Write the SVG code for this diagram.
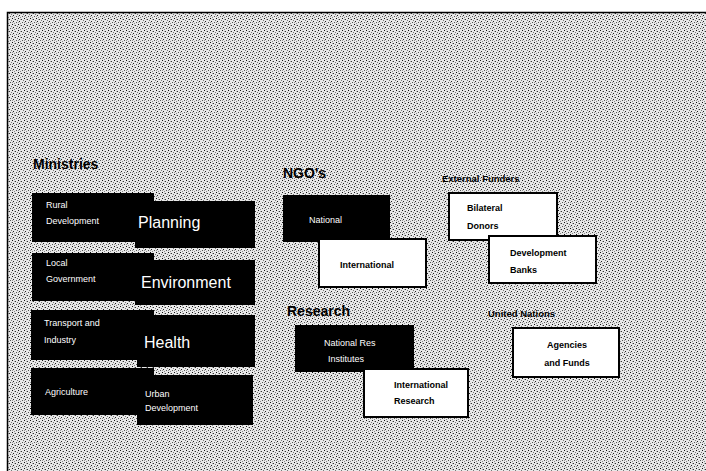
<svg xmlns="http://www.w3.org/2000/svg" width="706" height="471" viewBox="0 0 706 471">
<defs>
<pattern id="dither" width="6" height="6" patternUnits="userSpaceOnUse">
<rect width="6" height="6" fill="#e8e8e8"/>
<rect x="0" y="0" width="1" height="1" fill="#111"/>
<rect x="3" y="1" width="1" height="1" fill="#333"/>
<rect x="5" y="2" width="1" height="1" fill="#777"/>
<rect x="1" y="3" width="1" height="1" fill="#222"/>
<rect x="4" y="4" width="1" height="1" fill="#555"/>
<rect x="2" y="5" width="1" height="1" fill="#888"/>
<rect x="2" y="1" width="1" height="1" fill="#aaa"/>
<rect x="0" y="4" width="1" height="1" fill="#999"/>
</pattern>
</defs>
<style>
.dark{fill:#000;}
.light{fill:#fff;stroke:#000;stroke-width:2;}
.wt{fill:#fff;font-family:"Liberation Sans",Arial,sans-serif;font-size:9px;}
.big{fill:#fff;font-family:"Liberation Sans",Arial,sans-serif;font-size:16px;}
.bt{fill:#000;font-family:"Liberation Sans",Arial,sans-serif;font-size:9px;font-weight:bold;}
.hd{fill:#000;font-family:"Liberation Sans",Arial,sans-serif;font-size:14px;font-weight:bold;}
.hs{fill:#000;font-family:"Liberation Sans",Arial,sans-serif;font-size:9.5px;font-weight:bold;}
</style>
<rect width="706" height="471" fill="#fff"/>
<rect x="7" y="12" width="699" height="459" fill="url(#dither)"/>
<path d="M7.5 471 V12.5 H706" fill="none" stroke="#000" stroke-width="1.5"/>

<g id="ministries">
<text class="hd" x="33" y="169">Ministries</text>
</g>
<g id="rural">
<rect class="dark" x="32" y="193" width="122" height="49"/>
<text class="wt" x="46" y="208">Rural</text>
<text class="wt" x="46" y="224">Development</text>
</g>
<g id="planning">
<rect class="dark" x="135" y="201" width="120" height="47"/>
<text class="big" x="138" y="228">Planning</text>
</g>
<g id="local">
<rect class="dark" x="32" y="253" width="122" height="48"/>
<text class="wt" x="46" y="266">Local</text>
<text class="wt" x="46" y="282">Government</text>
</g>
<g id="environment">
<rect class="dark" x="135" y="260" width="120" height="45"/>
<text class="big" x="141" y="288">Environment</text>
</g>
<g id="transport">
<rect class="dark" x="31" y="310" width="123" height="50"/>
<text class="wt" x="44" y="326">Transport and</text>
<text class="wt" x="44" y="343">Industry</text>
</g>
<g id="health">
<rect class="dark" x="137" y="315" width="118" height="52"/>
<text class="big" x="144" y="348">Health</text>
</g>
<g id="agriculture">
<rect class="dark" x="31" y="368" width="123" height="47"/>
<text class="wt" x="45" y="395">Agriculture</text>
</g>
<g id="urban">
<rect class="dark" x="137" y="375" width="116" height="50"/>
<text class="wt" x="145" y="397">Urban</text>
<text class="wt" x="145" y="411">Development</text>
</g>

<g id="ngos">
<text class="hd" x="283" y="178">NGO's</text>
</g>
<g id="national">
<rect class="dark" x="283" y="195" width="107" height="47"/>
<text class="wt" x="309" y="223">National</text>
</g>
<g id="international">
<rect class="light" x="319" y="239" width="107" height="48"/>
<text class="bt" x="367" y="268" text-anchor="middle">International</text>
</g>

<g id="research">
<text class="hd" x="287" y="316">Research</text>
</g>
<g id="natres">
<rect class="dark" x="295" y="325" width="119" height="47"/>
<text class="wt" x="324" y="346">National Res</text>
<text class="wt" x="328" y="362">Institutes</text>
</g>
<g id="intres">
<rect class="light" x="364" y="369" width="104" height="48"/>
<text class="bt" x="394" y="388">International</text>
<text class="bt" x="394" y="404">Research</text>
</g>

<g id="funders">
<text class="hs" x="442" y="182">External Funders</text>
</g>
<g id="bilateral">
<rect class="light" x="449" y="193" width="108" height="47"/>
<text class="bt" x="467" y="211">Bilateral</text>
<text class="bt" x="467" y="229">Donors</text>
</g>
<g id="banks">
<rect class="light" x="489" y="236" width="107" height="47"/>
<text class="bt" x="510" y="256">Development</text>
<text class="bt" x="510" y="273">Banks</text>
</g>

<g id="un">
<text class="hs" x="488" y="317">United Nations</text>
</g>
<g id="agencies">
<rect class="light" x="513" y="328" width="106" height="49"/>
<text class="bt" x="567" y="348" text-anchor="middle">Agencies</text>
<text class="bt" x="567" y="366" text-anchor="middle">and Funds</text>
</g>
<g id="connectors"></g>
</svg>
